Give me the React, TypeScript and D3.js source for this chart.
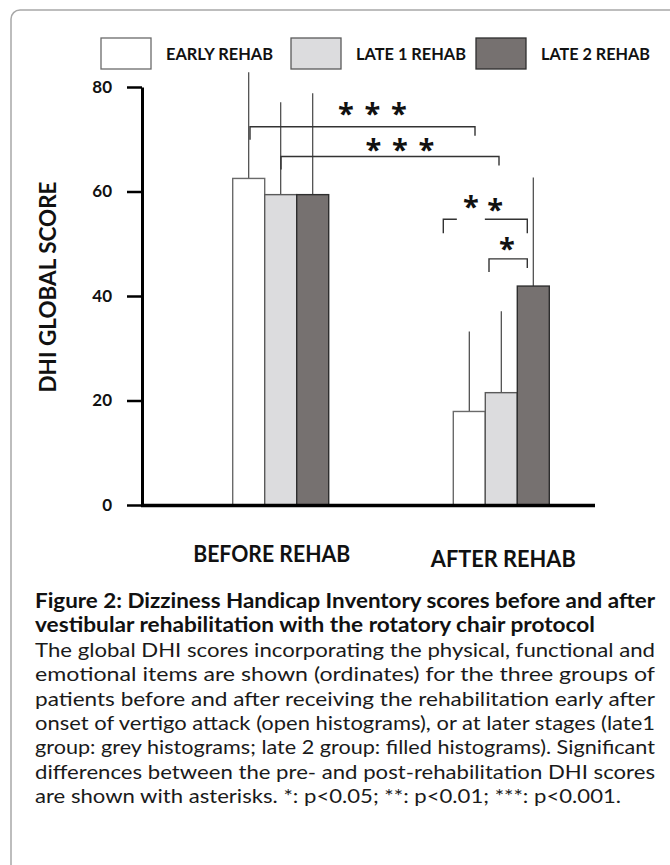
import React, { useEffect, useRef } from "react";
import * as d3 from "d3";

const groups = ["BEFORE REHAB", "AFTER REHAB"];
const series = ["EARLY REHAB", "LATE 1 REHAB", "LATE 2 REHAB"];
const beforeMeans = [62.5, 59.4, 59.4];
const beforeErr = [20.3, 17.7, 19.4];
const afterMeans = [17.9, 21.5, 41.9];
const afterErr = [15.3, 15.6, 20.8];
const yTicks = [0, 20, 40, 60, 80];

// significance brackets between two bars ([group, bar]), level in score units
const brackets = [
  { from: [0, 0], to: [1, 0], level: 72.4, stars: 3 },
  { from: [0, 1], to: [1, 1], level: 66.7, stars: 3 },
  { from: [1, 0], to: [1, 2], level: 54.7, stars: 2 },
  { from: [1, 1], to: [1, 2], level: 47.1, stars: 1 },
];

const captionTitle = [
  "Figure 2: Dizziness Handicap Inventory scores before and after",
  "vestibular rehabilitation with the rotatory chair protocol",
];
const captionBody = [
  "The global DHI scores incorporating the physical, functional and",
  "emotional items are shown (ordinates) for the three groups of",
  "patients before and after receiving the rehabilitation early after",
  "onset of vertigo attack (open histograms), or at later stages (late1",
  "group: grey histograms; late 2 group: filled histograms). Significant",
  "differences between the pre- and post-rehabilitation DHI scores",
  "are shown with asterisks. *: p<0.05; **: p<0.01; ***: p<0.001.",
];

const W = 670;
const H = 865;
const FONT = "Lato, 'Open Sans', sans-serif";
const STAR_FONT = "'Open Sans', sans-serif";

const fills = ["#ffffff", "#dcdcde", "#767170"];
const strokes = ["#6a6a6a", "#5a5a5a", "#2e2e2e"];

// hand-tuned placement of brackets and stars (px)
const bracketNudge = [
  [1.3, 5.7],
  [0.3, -2.3],
  [-26, -6],
  [-12.3, -6],
];
const starLayout = [
  { dx: 10, lift: 18, gap: 26.5 },
  { dx: 10, lift: 11.7, gap: 26.5 },
  { dx: -2.3, lift: 14, gap: 24.3 },
  { dx: -1.3, lift: 14.7, gap: 0 },
];

const legendX = [101, 291, 476];
const legendTextW = [107, 110, 109];

const App = () => {
  const axisRef = useRef<SVGGElement>(null);

  const y = d3.scaleLinear().domain([0, 80]).range([505, 87]);
  const x0 = d3.scalePoint().domain(groups).range([280.7, 501.3]);
  const x1 = d3.scaleBand().domain(series).range([-48, 48]);
  const bw = x1.bandwidth();

  const values = [beforeMeans, afterMeans];
  const errors = [beforeErr, afterErr];

  const barCenter = (gi: number, si: number) =>
    (x0(groups[gi]) as number) + (x1(series[si]) as number) + bw / 2;

  useEffect(() => {
    const g = d3.select(axisRef.current);
    g.selectAll("*").remove();
    g.call(
      d3
        .axisLeft(y)
        .tickValues(yTicks)
        .tickSize(15)
        .tickSizeOuter(0)
        .tickPadding(15)
        .tickFormat(d3.format("d"))
    );
    g.select(".domain").attr("stroke", "#000").attr("stroke-width", 3);
    g.selectAll(".tick line").attr("stroke", "#000").attr("stroke-width", 2.5);
    g.selectAll(".tick text")
      .attr("fill", "#111")
      .attr("font-family", FONT)
      .attr("font-weight", 700)
      .attr("font-size", 17);
  }, []);

  return (
    <svg
      width={W}
      height={H}
      style={{ position: "absolute", left: 0, top: 0, background: "#fff" }}
      fontFamily={FONT}
    >
      <rect x={11} y={10} width={720} height={920} rx={9} fill="none" stroke="#a8a8a8" strokeWidth={1.5} />

      {/* legend */}
      {series.map((s, i) => (
        <g key={s}>
          <rect
            x={legendX[i]}
            y={38}
            width={50}
            height={31}
            fill={fills[i]}
            stroke={strokes[i]}
            strokeWidth={1.3}
          />
          <text
            x={legendX[i] + 65}
            y={60}
            fontSize={17}
            fontWeight={700}
            fill="#111"
            textLength={legendTextW[i]}
            lengthAdjust="spacingAndGlyphs"
          >
            {s}
          </text>
        </g>
      ))}

      {/* error bars */}
      {groups.map((g, gi) =>
        series.map((s, si) => (
          <line
            key={g + s + "err"}
            x1={barCenter(gi, si)}
            x2={barCenter(gi, si)}
            y1={y(values[gi][si])}
            y2={y(values[gi][si] + errors[gi][si])}
            stroke="#444"
            strokeWidth={1.2}
          />
        ))
      )}

      {/* bars */}
      {groups.map((g, gi) =>
        series.map((s, si) => (
          <rect
            key={g + s}
            x={(x0(g) as number) + (x1(s) as number)}
            y={y(values[gi][si])}
            width={bw}
            height={y(0) - y(values[gi][si])}
            fill={fills[si]}
            stroke={strokes[si]}
            strokeWidth={1.4}
          />
        ))
      )}

      {/* significance brackets */}
      {brackets.map((b, i) => {
        const xa = barCenter(b.from[0], b.from[1]) + bracketNudge[i][0];
        const xb = barCenter(b.to[0], b.to[1]) + bracketNudge[i][1];
        const yl = y(b.level);
        const mid = (xa + xb) / 2 + starLayout[i].dx;
        const starXs = d3.range(b.stars).map(
          (k) => mid + (k - (b.stars - 1) / 2) * starLayout[i].gap
        );
        const cut = b.stars === 2;
        return (
          <g key={"br" + i} stroke="#333" strokeWidth={1.4} fill="none">
            {cut ? (
              <path
                d={`M${xa},${yl + 14}V${yl}H${starXs[0] - 14}M${starXs[0] + 14},${yl}H${xb}V${yl + 14}`}
              />
            ) : (
              <path d={`M${xa},${yl + 13}V${yl}H${xb}V${yl + 9}`} />
            )}
            {starXs.map((sx, k) => (
              <text
                key={k}
                x={sx}
                y={yl - starLayout[i].lift + 15 - (cut && k === 0 ? 3 : 0)}
                textAnchor="middle"
                fontFamily={STAR_FONT}
                fontSize={29}
                fontWeight={700}
                fill="#111"
                stroke="none"
              >
                *
              </text>
            ))}
          </g>
        );
      })}

      {/* axes */}
      <g ref={axisRef} transform="translate(142,0)" />
      <line x1={141} x2={595} y1={505.5} y2={505.5} stroke="#000" strokeWidth={3.5} />

      <text
        transform="translate(56,287) rotate(-90)"
        textAnchor="middle"
        fontSize={22}
        fontWeight={700}
        fill="#111"
        textLength={211}
        lengthAdjust="spacingAndGlyphs"
      >
        DHI GLOBAL SCORE
      </text>

      {groups.map((g, gi) => (
        <text
          key={g}
          x={(x0(g) as number) + (gi === 0 ? -9 : 2)}
          y={gi === 0 ? 562 : 567}
          textAnchor="middle"
          fontSize={22}
          fontWeight={700}
          fill="#111"
          textLength={gi === 0 ? 157 : 145}
          lengthAdjust="spacingAndGlyphs"
        >
          {g}
        </text>
      ))}

      {/* caption */}
      {captionTitle.map((t, i) => (
        <text
          key={t}
          x={35}
          y={608 + i * 24.4}
          fontSize={20}
          fontWeight={700}
          fill="#111"
          textLength={i === 0 ? 620 : 560}
          lengthAdjust="spacingAndGlyphs"
        >
          {t}
        </text>
      ))}
      {captionBody.map((t, i) => (
        <text
          key={t}
          x={35}
          y={657 + i * 24.3}
          fontSize={20}
          fill="#1a1a1a"
          textLength={i < captionBody.length - 1 ? 620 : 586}
          lengthAdjust="spacingAndGlyphs"
        >
          {t}
        </text>
      ))}
    </svg>
  );
};

export default App;
